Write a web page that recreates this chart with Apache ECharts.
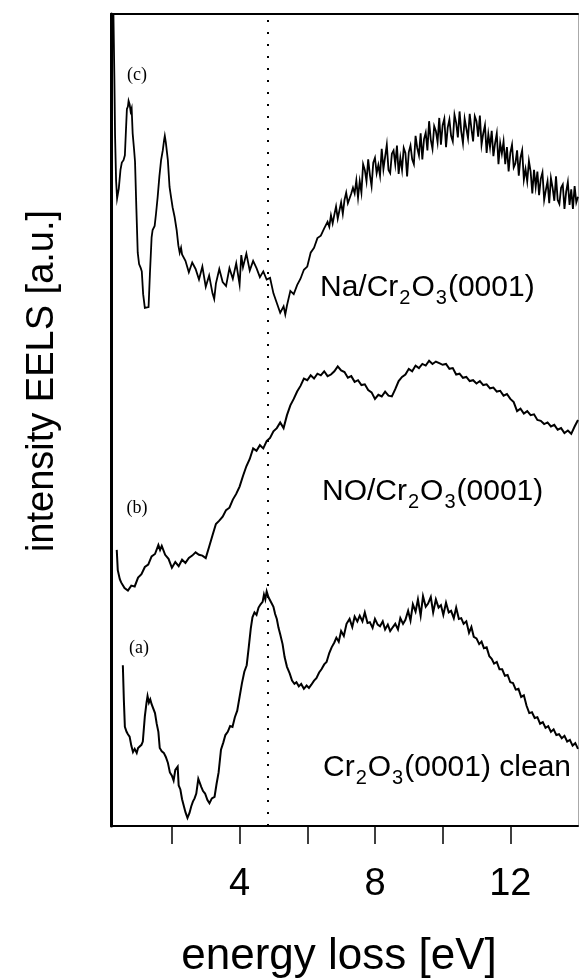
<!DOCTYPE html>
<html>
<head>
<meta charset="utf-8">
<script src="https://cdn.jsdelivr.net/npm/echarts@6/dist/echarts.min.js"></script>
<style>
  html, body { margin: 0; padding: 0; background: #fff; }
  #chart { width: 580px; height: 980px; }
</style>
</head>
<body>
<div id="chart"></div>
<script>
// ---- Data (energy loss in eV, intensity in arbitrary units 0..100 of frame) ----
const xTickValues = [2, 4, 6, 8, 10, 12];
const xLabelValues = [4, 8, 12];
const markerEnergy = 4.83;

// (c) Na/Cr2O3(0001)
const energyC = [0.27,0.30,0.32,0.35,0.38,0.43,0.48,0.52,0.57,0.61,0.64,0.67,0.70,0.72,0.75,0.78,0.81,0.84,0.88,0.91,0.95,0.99,1.03,1.08,1.11,1.15,1.20,1.25,1.31,1.35,1.40,1.43,1.47,1.49,1.53,1.58,1.63,1.68,1.73,1.77,1.79,1.82,1.85,1.88,1.93,1.98,2.02,2.08,2.14,2.19,2.23,2.27,
  2.3,2.4,2.5,2.6,2.7,2.8,2.9,3.0,3.1,3.2,3.25,3.3,3.4,3.5,3.6,3.7,3.8,3.9,4.0,4.05,4.1,4.2,4.3,4.4,4.5,4.6,4.7,4.8,4.9,5.0,5.1,5.2,5.3,5.35,5.4,5.5,5.6,5.7,5.8,5.9,6.0,6.1,6.2,6.3,6.4,6.5,
  6.60,6.65,6.70,6.75,6.80,6.85,6.90,6.95,7.00,7.05,7.10,7.15,7.20,7.25,7.30,7.35,7.40,7.45,7.50,7.55,7.60,7.65,7.70,7.75,7.80,7.85,7.90,7.95,
  8.00,8.05,8.10,8.15,8.20,8.25,8.30,8.35,8.40,8.45,8.50,8.55,8.60,8.65,8.70,8.75,8.80,8.85,8.90,8.95,
  9.00,9.05,9.10,9.15,9.20,9.25,9.30,9.35,9.40,9.45,9.50,9.55,9.60,9.65,9.70,9.75,9.80,9.85,9.90,9.95,
  10.00,10.05,10.10,10.15,10.20,10.25,10.30,10.35,10.40,10.45,10.50,10.55,10.60,10.65,10.70,10.75,10.80,10.85,10.90,10.95,
  11.00,11.05,11.10,11.15,11.20,11.25,11.30,11.35,11.40,11.45,11.50,11.55,11.60,11.65,11.70,11.75,11.80,11.85,11.90,11.95,
  12.00,12.05,12.10,12.15,12.20,12.25,12.30,12.35,12.40,12.45,12.50,12.55,12.60,12.65,12.70,12.75,12.80,12.85,12.90,12.95,
  13.00,13.05,13.10,13.15,13.20,13.25,13.30,13.35,13.40,13.45,13.50,13.55,13.60,13.65,13.70,13.75,13.80,13.85,13.90,13.95,14.00];
const intensityC = [100.5,92,85,79.5,77.3,78.5,80.8,81.7,82.0,82.6,85.5,88.3,88.6,89.3,88.9,88.0,88.4,85.3,83.4,81.8,76.0,70.6,69.2,68.7,68.3,65.5,63.8,63.6,63.9,68.0,72.5,73.4,73.2,73.9,75.4,77.5,80.0,82.0,83.2,84.5,85.0,84.2,84.3,82.0,78.7,77.3,76.2,75.0,73.4,71.5,70.6,71.2,
  70.4,69.6,68.2,69.4,68.6,67.3,68.9,66.4,67.8,65.6,64.9,66.8,68.6,67.0,66.5,68.7,67.4,69.3,66.7,70.3,68.8,70.5,68.4,69.6,68.7,67.6,68.3,67.3,67.5,65.6,64.4,63.2,64.0,63.0,64.1,65.9,65.5,66.6,67.4,68.5,68.9,70.6,71.2,72.4,72.7,73.6,
  74.4,73.8,75.2,74.2,75.3,76.3,74.8,75.8,76.8,75.4,77.1,78.0,76.7,76.5,77.9,78.6,77.9,79.5,77.4,79.4,78.0,81.5,80.8,79.4,82.1,80.2,78.8,81.7,
  82.3,80.4,81.4,80.1,83.4,80.9,82.4,83.9,80.8,80.4,82.8,83.2,81.5,83.8,80.3,82.3,80.8,83.5,82.9,80.0,
  83.0,83.8,82.1,81.5,85.0,83.5,82.6,85.3,82.1,84.6,85.4,83.2,86.8,84.5,83.4,86.2,85.6,84.2,87.2,83.9,
  86.3,87.1,83.6,86.0,87.0,85.0,84.3,87.6,86.6,84.8,88.0,85.5,84.1,87.1,87.0,84.7,87.7,85.9,84.3,87.4,
  86.8,84.9,87.5,83.9,85.3,86.3,82.9,85.2,83.6,85.6,82.5,84.1,85.3,81.5,84.1,82.8,84.3,81.5,83.6,80.6,
  82.9,83.9,81.1,81.6,83.2,80.1,82.3,83.2,79.6,80.9,79.4,81.9,80.6,77.9,80.8,78.7,80.6,77.7,79.7,80.5,
  77.1,78.3,79.4,76.7,79.8,78.6,77.0,80.0,77.1,76.6,78.6,79.0,76.0,78.1,79.3,76.5,78.4,76.0,78.8,76.8,77.5];

// (b) NO/Cr2O3(0001)
const energyB = [0.37,0.40,0.46,0.5,0.6,0.7,0.8,0.9,1.0,1.1,1.2,1.3,1.4,1.5,1.6,1.65,1.7,1.8,1.9,2.0,2.1,2.2,2.3,2.4,2.5,2.6,2.7,2.8,2.9,3.0,3.05,3.1,3.2,3.3,3.4,3.5,3.6,3.7,3.8,3.9,4.0,4.1,4.2,4.3,4.4,4.5,4.6,4.7,4.8,4.9,5.0,5.1,5.2,5.3,5.4,5.5,5.6,5.7,5.8,5.9,6.0,6.1,6.2,6.3,6.4,6.5,6.6,6.7,6.8,6.9,7.0,7.1,7.2,7.3,7.4,7.5,7.6,7.7,7.8,7.9,8.0,8.1,8.2,8.3,8.4,8.5,8.6,8.7,8.8,8.9,9.0,9.1,9.2,9.3,9.4,9.5,9.6,9.7,9.8,9.9,10.0,10.1,10.2,10.3,10.4,10.5,10.6,10.7,10.8,10.9,11.0,11.1,11.2,11.3,11.4,11.5,11.6,11.7,11.8,11.9,12.0,12.1,12.2,12.3,12.4,12.5,12.6,12.7,12.8,12.9,13.0,13.1,13.2,13.3,13.4,13.5,13.6,13.7,13.8,13.9,14.0];
const intensityB = [34.0,31.5,30.4,30.0,29.3,29.0,29.6,29.5,30.6,31.0,31.9,32.2,33.2,33.5,34.6,34.0,34.5,33.4,32.9,31.8,32.5,32.0,32.8,32.4,33.0,33.3,33.7,33.4,33.3,33.0,33.1,34.4,35.8,37.2,37.6,38.1,38.9,39.2,40.2,40.9,41.8,43.1,44.3,45.2,46.5,46.2,46.9,46.5,47.4,47.8,48.6,49.0,49.7,49.0,50.6,51.8,52.6,53.5,54.2,55.1,54.9,55.5,55.1,55.7,55.5,56.0,55.4,55.6,56.0,56.6,56.1,55.9,55.2,55.4,54.7,54.9,54.3,54.4,53.7,53.4,52.6,53.1,52.9,53.5,53.0,52.9,53.8,54.8,55.3,55.6,56.3,56.0,56.7,56.4,56.9,56.7,57.3,56.9,57.2,57.0,56.8,56.9,56.3,56.4,55.6,55.7,55.2,55.3,54.8,54.9,54.5,54.8,54.3,54.4,53.9,54.0,53.5,53.6,53.0,53.2,52.6,52.2,51.1,51.4,50.8,51.1,50.6,50.7,50.0,49.9,49.5,49.7,49.2,49.4,48.8,49.0,48.4,48.7,48.3,49.2,50.0];

// (a) Cr2O3(0001) clean
const energyA = [0.55,0.58,0.61,0.66,0.70,0.75,0.80,0.85,0.90,0.96,1.00,1.05,1.10,1.14,1.20,1.25,1.28,1.32,1.36,1.40,1.45,1.50,1.55,1.60,1.64,1.70,1.76,1.82,1.88,1.94,2.00,2.05,2.10,2.17,2.20,2.25,2.30,2.35,2.40,2.46,2.52,2.57,2.62,2.67,2.72,2.78,2.82,2.87,2.92,2.98,3.05,3.11,3.18,3.26,3.32,3.38,3.45,3.52,3.58,3.65,3.72,3.79,3.86,3.93,4.00,4.07,4.14,4.21,4.27,4.33,4.38,4.44,4.50,4.56,4.62,4.68,4.72,4.76,4.80,4.85,4.89,4.95,5.00,5.05,5.10,5.15,5.20,5.27,5.33,5.40,5.48,5.55,5.62,5.68,5.75,5.82,5.90,5.98,6.05,6.12,6.20,6.27,6.35,6.42,6.50,6.57,6.65,6.72,6.80,6.86,6.93,7.00,7.08,7.16,7.25,7.33,7.40,7.48,7.55,7.63,7.70,7.78,7.85,7.93,8.00,8.08,8.15,8.23,8.30,8.38,8.45,8.53,8.60,8.68,8.75,8.83,8.90,8.98,9.05,9.12,9.20,9.27,9.35,9.42,9.50,9.57,9.65,9.72,9.80,9.88,9.95,10.02,10.10,10.18,10.25,10.33,10.40,10.48,10.55,10.62,10.70,10.78,10.85,10.92,11.00,11.08,11.15,11.22,11.30,11.38,11.45,11.52,11.60,11.68,11.76,11.84,11.92,12.00,12.08,12.16,12.24,12.32,12.40,12.48,12.56,12.64,12.72,12.80,12.88,12.96,13.04,13.12,13.20,13.28,13.36,13.44,13.52,13.60,13.68,13.76,13.84,13.92,14.00];
const intensityA = [19.8,15.5,12.2,11.6,11.3,11.0,9.9,9.1,9.5,9.0,9.6,9.4,10.0,10.4,13.5,15.2,16.0,15.2,15.6,15.0,14.8,13.9,12.6,11.6,9.6,9.2,9.0,8.5,7.8,6.6,6.2,5.6,6.9,7.3,5.0,4.5,3.3,2.5,1.7,1.0,1.6,2.4,3.0,3.4,4.0,5.8,5.7,4.8,4.3,4.0,3.2,2.8,3.4,3.6,5.2,6.6,9.4,10.3,11.2,11.6,12.3,12.2,13.4,14.2,15.9,17.6,19.0,19.8,22.0,24.3,25.7,26.3,26.0,26.9,27.3,27.6,28.5,27.9,28.9,28.2,28.0,27.4,27.0,26.1,25.5,24.4,23.6,22.4,20.8,19.6,18.8,17.9,17.5,17.7,17.2,17.5,16.9,17.3,17.0,17.4,17.9,18.2,18.9,19.3,19.9,20.2,21.3,22.0,22.6,23.2,22.7,
  24.0,23.4,24.9,25.5,24.5,25.8,25.2,25.9,25.2,26.3,25.0,25.1,24.4,25.5,24.8,24.6,25.2,24.2,24.8,24.0,24.5,24.9,24.2,25.6,24.9,25.4,26.5,25.3,27.3,26.4,27.9,25.9,28.3,27.0,27.4,28.2,26.3,27.9,26.9,27.2,26.0,27.5,26.3,26.5,25.6,26.9,25.5,25.6,24.9,25.2,23.8,24.5,23.3,23.1,
  22.4,22.7,21.9,22.0,20.9,20.6,20.0,20.2,19.3,19.3,18.5,18.6,17.7,17.6,16.8,16.9,15.9,16.1,14.8,13.9,14.0,13.3,13.4,12.6,12.8,12.1,12.3,11.6,11.9,11.2,11.3,10.8,11.1,10.4,10.6,9.9,10.2,9.5];

const curveLabels = ['(a)', '(b)', '(c)'];
const sampleNames = ['Cr2O3(0001) clean', 'NO/Cr2O3(0001)', 'Na/Cr2O3(0001)'];
const xAxisTitle = 'energy loss [eV]';
const yAxisTitle = 'intensity EELS [a.u.]';

// ---- Chart ----
const SANS = '"Liberation Sans", Arial, Helvetica, sans-serif';
const SERIF = '"Liberation Serif", "Times New Roman", serif';
const zip = (xs, ys) => xs.map((x, i) => [x, ys[i]]);

const labelRich = {
  m: { fontSize: 30, fontFamily: SANS, color: '#000' },
  s: { fontSize: 20, fontFamily: SANS, color: '#000', padding: [20, 1, 0, 1] }
};
function richLabel(name) {
  const parts = name.split('Cr2O3');
  return '{m|' + parts[0] + 'Cr}{s|2}{m|O}{s|3}{m|' + parts[1] + '}';
}

const chart = echarts.init(document.getElementById('chart'), null, { renderer: 'canvas' });

const lineSeries = (name, data, width) => ({
  name, type: 'line', data, showSymbol: false, symbol: 'none',
  lineStyle: { color: '#000', width: width, join: 'miter' }, animation: false, clip: true, z: 3
});

chart.setOption({
  animation: false,
  backgroundColor: '#fff',
  grid: { left: 111, right: 2, top: 14, bottom: 154, containLabel: false },
  xAxis: [{
    type: 'value', min: 0.2, max: 14.0, position: 'bottom',
    axisLine: { show: true, onZero: false, lineStyle: { color: '#000', width: 2 } },
    axisTick: { show: true, inside: false, length: 18, customValues: xTickValues, lineStyle: { color: '#000', width: 1.5 } },
    axisLabel: { show: true, customValues: xLabelValues, margin: 40, fontSize: 38, fontFamily: SANS, color: '#000' },
    splitLine: { show: false }
  }, {
    type: 'value', min: 0.2, max: 14.0, position: 'top',
    axisLine: { show: true, onZero: false, lineStyle: { color: '#000', width: 2 } },
    axisTick: { show: false }, axisLabel: { show: false }, splitLine: { show: false }
  }],
  yAxis: [{
    type: 'value', min: 0, max: 100, position: 'left',
    axisLine: { show: true, onZero: false, lineStyle: { color: '#000', width: 3 } },
    axisTick: { show: false }, axisLabel: { show: false }, splitLine: { show: false }
  }, {
    type: 'value', min: 0, max: 100, position: 'right',
    axisLine: { show: true, onZero: false, lineStyle: { color: '#aaa', width: 1 } },
    axisTick: { show: false }, axisLabel: { show: false }, splitLine: { show: false }
  }],
  series: [
    Object.assign(lineSeries(sampleNames[0], zip(energyA, intensityA), 2), {
      markLine: {
        silent: true, symbol: 'none', animation: false,
        label: { show: false },
        lineStyle: { color: '#000', width: 2, type: [2, 10] },
        data: [{ xAxis: markerEnergy }]
      }
    }),
    lineSeries(sampleNames[1], zip(energyB, intensityB), 2),
    lineSeries(sampleNames[2], zip(energyC, intensityC), 1.8)
  ],
  graphic: [
    { type: 'text', x: 137, y: 75, style: { text: curveLabels[2], font: '18px ' + SERIF, fill: '#000', align: 'center', verticalAlign: 'middle' } },
    { type: 'text', x: 137, y: 508, style: { text: curveLabels[1], font: '18px ' + SERIF, fill: '#000', align: 'center', verticalAlign: 'middle' } },
    { type: 'text', x: 139, y: 648, style: { text: curveLabels[0], font: '18px ' + SERIF, fill: '#000', align: 'center', verticalAlign: 'middle' } },
    { type: 'text', x: 320, y: 288, style: { text: richLabel(sampleNames[2]), rich: labelRich, align: 'left', verticalAlign: 'middle' } },
    { type: 'text', x: 322, y: 492, style: { text: richLabel(sampleNames[1]), rich: labelRich, align: 'left', verticalAlign: 'middle' } },
    { type: 'text', x: 323, y: 768, style: { text: richLabel(sampleNames[0]), rich: labelRich, align: 'left', verticalAlign: 'middle' } },
    { type: 'text', x: 43, y: 381, rotation: Math.PI / 2, style: { text: yAxisTitle, font: '38px ' + SANS, fill: '#000', align: 'center', verticalAlign: 'middle' } },
    { type: 'text', x: 339, y: 957, style: { text: xAxisTitle, font: '44px ' + SANS, fill: '#000', align: 'center', verticalAlign: 'middle' } }
  ]
});
</script>
</body>
</html>
